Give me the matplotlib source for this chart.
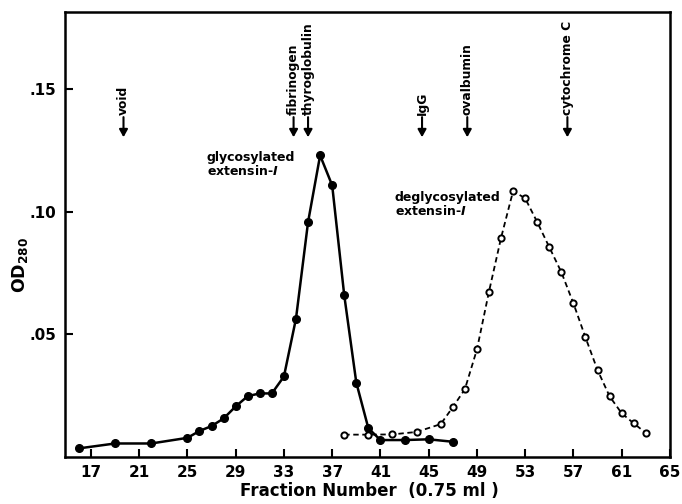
import matplotlib
matplotlib.use("Agg")
import matplotlib.pyplot as plt

plt.rcParams['font.family'] = ['DejaVu Sans']
plt.rcParams['mathtext.fontset'] = 'custom'
plt.rcParams['mathtext.it'] = 'DejaVu Sans:italic:bold'
plt.rcParams['mathtext.rm'] = 'DejaVu Sans:bold'
plt.rcParams['mathtext.bf'] = 'DejaVu Sans:bold'

# glycosylated extensin-1 (filled circles, solid line)
gly_fraction = [16, 19, 22, 25, 26, 27, 28, 29, 30, 31, 32, 33, 34, 35, 36, 37,
                38, 39, 40, 41, 43, 45, 47]
gly_od = [0.0035, 0.0055, 0.0055, 0.0078, 0.0106, 0.0126, 0.0157, 0.0206, 0.0248,
          0.0259, 0.0259, 0.0328, 0.0564, 0.0957, 0.1229, 0.1107, 0.0659, 0.0303,
          0.0117, 0.0069, 0.0069, 0.0072, 0.0062]

# deglycosylated extensin-1 (open circles, dashed line)
degly_fraction = [38, 40, 42, 44, 46, 47, 48, 49, 50, 51, 52, 53, 54, 55, 56, 57,
                  58, 59, 60, 61, 62, 63]
degly_od = [0.0091, 0.0091, 0.0092, 0.0102, 0.0134, 0.0203, 0.0276, 0.0438, 0.0674,
            0.0893, 0.1084, 0.1054, 0.0957, 0.0855, 0.0753, 0.0626, 0.0487, 0.0354,
            0.0247, 0.0178, 0.0137, 0.0098]

# calibration markers
marker_names = ["void", "fibrinogen", "thyroglobulin", "IgG", "ovalbumin", "cytochrome C"]
marker_fraction = [19.7, 33.8, 35.0, 44.45, 48.2, 56.5]

x_ticks = [17, 21, 25, 29, 33, 37, 41, 45, 49, 53, 57, 61, 65]
y_ticks = [0.05, 0.10, 0.15]
y_tick_labels = [".05", ".10", ".15"]

fig = plt.figure(figsize=(6.82, 5.04), dpi=100)
ax = fig.add_axes([0.0953, 0.0933, 0.887, 0.8827])

ax.plot(gly_fraction, gly_od, '-', color='black', lw=1.8, marker='o',
        markersize=5.5, markerfacecolor='black', markeredgecolor='black', zorder=3)
ax.plot(degly_fraction, degly_od, '--', color='black', lw=1.3, dashes=(3, 2),
        marker='o', markersize=4.5, markerfacecolor='white',
        markeredgecolor='black', markeredgewidth=1.4, zorder=4)

ax.set_xlim(14.85, 65)
ax.set_ylim(0, 0.1813)
ax.set_xticks(x_ticks)
ax.set_xticklabels([str(t) for t in x_ticks], fontsize=11, fontweight='bold')
ax.set_yticks(y_ticks)
ax.set_yticklabels(y_tick_labels, fontsize=11, fontweight='bold')
ax.tick_params(direction='in', length=6, width=1.5, pad=6)

for s in ax.spines.values():
    s.set_linewidth(1.8)

fig.text(369 / 682, 1 - 491 / 504, "Fraction Number  (0.75 ml )", fontsize=12,
         fontweight='bold', ha='center', va='center')
fig.text(20 / 682, 1 - 265 / 504, r"OD$_{\mathbf{280}}$", fontsize=12.5,
         fontweight='bold', ha='center', va='center', rotation=90)

for name, f in zip(marker_names, marker_fraction):
    ax.annotate("", xy=(f, 0.1303), xytext=(f, 0.1385),
                arrowprops=dict(arrowstyle='-|>,head_width=0.25,head_length=0.45',
                                color='black', lw=1.5, shrinkA=0, shrinkB=0))
    ax.text(f, 0.1392, name, rotation=90, ha='center', va='bottom',
            fontsize=8.8, fontweight='bold')

ax.text(26.6, 0.1245, "glycosylated\nextensin-$\\mathit{I}$", fontsize=9,
        fontweight='bold', ha='left', va='top', linespacing=1.0)
ax.text(42.2, 0.1082, "deglycosylated\nextensin-$\\mathit{I}$", fontsize=9,
        fontweight='bold', ha='left', va='top', linespacing=1.0)

fig.savefig("out.png", dpi=100)
